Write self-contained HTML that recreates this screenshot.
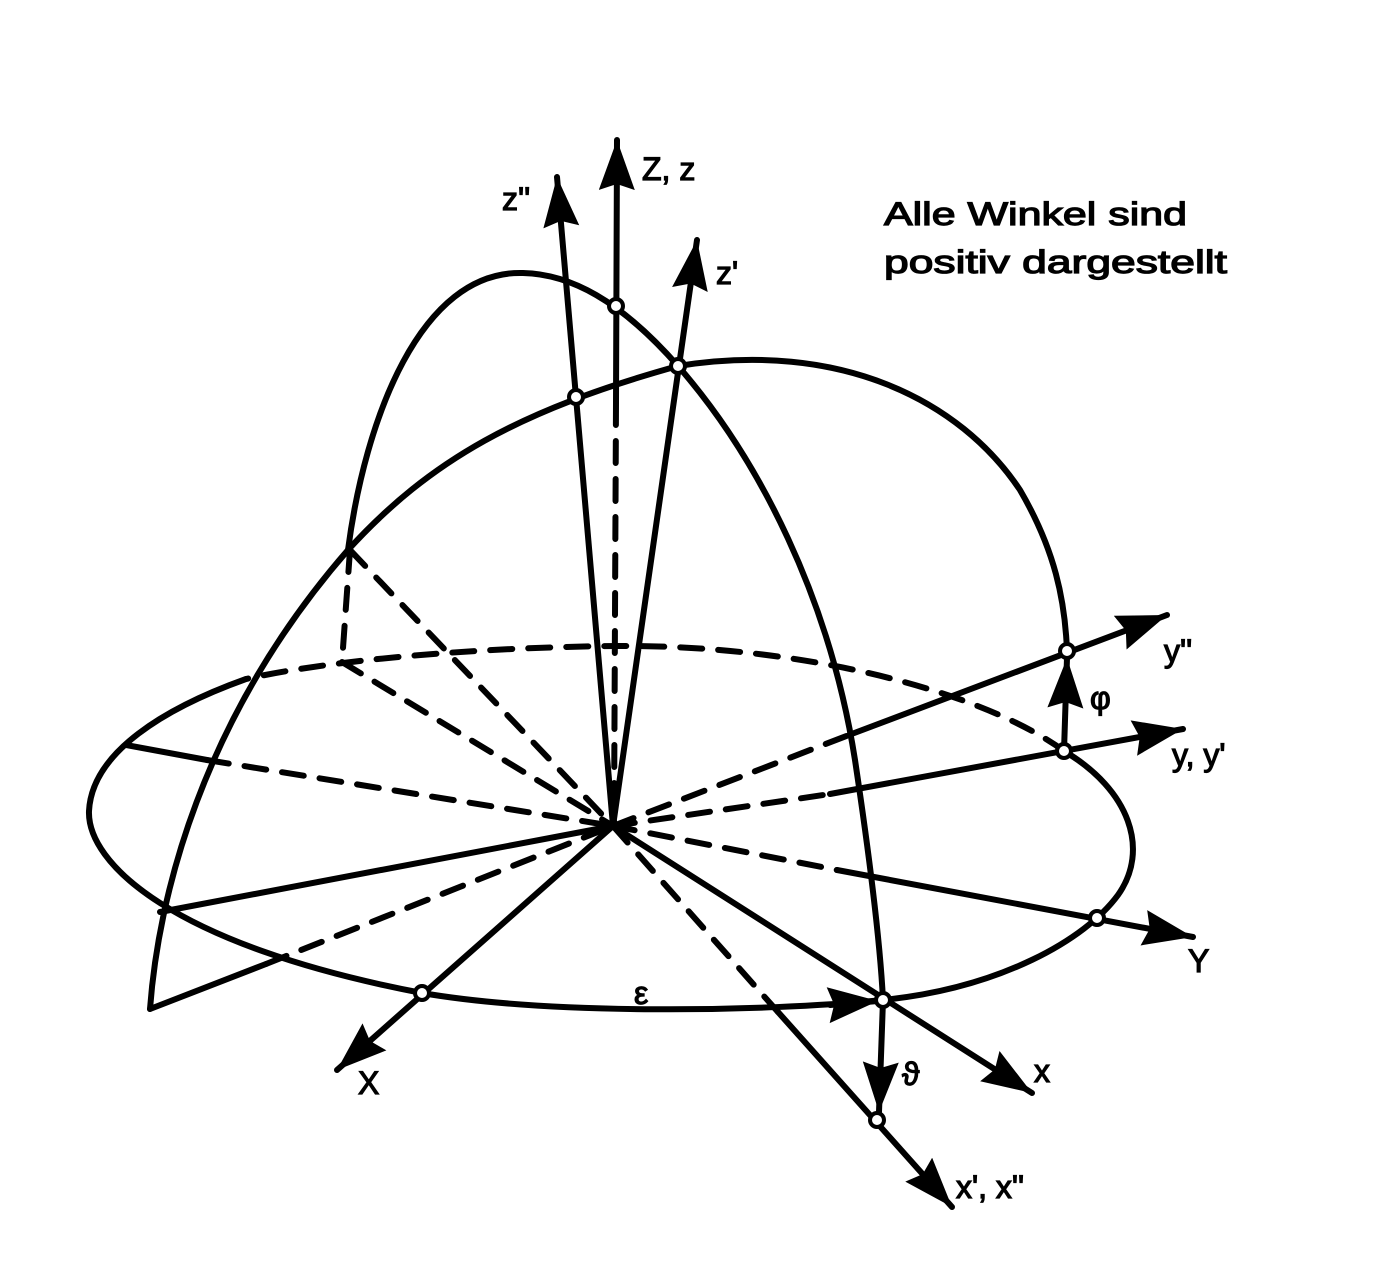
<!DOCTYPE html>
<html><head><meta charset="utf-8"><style>
html,body{margin:0;padding:0;background:#fff;}
svg{display:block;}
text{font-family:"Liberation Sans",sans-serif;fill:#000;stroke:#000;stroke-width:1.2;}
</style></head><body>
<svg width="1374" height="1278" viewBox="0 0 1374 1278" xmlns="http://www.w3.org/2000/svg">
<defs>
<marker id="ah" markerUnits="userSpaceOnUse" markerWidth="60" markerHeight="40" refX="50" refY="18" orient="auto" viewBox="0 0 60 40">
<path d="M0,0 L50,18 L0,36 L6,18 Z" fill="#000"/>
</marker>
</defs>
<g fill="none" stroke="#000" stroke-width="6" stroke-linecap="round" stroke-linejoin="round">
<path d="M246,679 C165,708 92,752 89,811 C87,862 170,945 422,993 C550,1015 760,1012 883,1000 C1000,988 1085,940 1118,895 C1150,850 1130,790 1064,751"/>
<path d="M1064,751 C980,690 800,645 620,646 C480,647 330,660 246,679" stroke-dasharray="22 16"/>

<path d="M150,1009 C158,900 200,720 348,550 C430,460 520,410 678,366 C840,340 960,400 1020,490 C1055,550 1065,600 1067,651"/>
<path d="M348,550 C365,420 420,270 523,273 C570,274 620,300 678,366 C760,460 830,600 855,760 C870,860 880,940 883,1000"/>

<g stroke-dasharray="22 16">
<line x1="350" y1="550" x2="342" y2="662"/>
<line x1="342" y1="662" x2="613" y2="826"/>
<line x1="350" y1="550" x2="613" y2="826"/>
<line x1="207" y1="760" x2="613" y2="826"/>
<line x1="266" y1="964" x2="613" y2="826"/>
<line x1="616" y1="403" x2="614" y2="826"/>
<line x1="613" y1="826" x2="849" y2="735"/>
<line x1="613" y1="826" x2="830" y2="794"/>
<line x1="613" y1="826" x2="837" y2="870"/>
<line x1="613" y1="826" x2="778" y2="1012"/>
</g>
<line x1="126" y1="745" x2="207" y2="760"/>
<line x1="160" y1="912" x2="613" y2="826"/>
<line x1="150" y1="1009" x2="266" y2="964"/>

<line x1="616" y1="403" x2="617" y2="140" marker-end="url(#ah)"/>
<line x1="613" y1="826" x2="557" y2="177" marker-end="url(#ah)"/>
<line x1="613" y1="826" x2="697" y2="240" marker-end="url(#ah)"/>
<line x1="613" y1="826" x2="337" y2="1070" marker-end="url(#ah)"/>
<line x1="613" y1="826" x2="1032" y2="1093" marker-end="url(#ah)"/>
<line x1="778" y1="1012" x2="952" y2="1207" marker-end="url(#ah)"/>
<line x1="837" y1="870" x2="1193" y2="937" marker-end="url(#ah)"/>
<line x1="830" y1="794" x2="1183" y2="729" marker-end="url(#ah)"/>
<line x1="849" y1="735" x2="1167" y2="615" marker-end="url(#ah)"/>
<line x1="830" y1="1005" x2="878" y2="1001" marker-end="url(#ah)"/>
<line x1="883" y1="1000" x2="879" y2="1112" marker-end="url(#ah)"/>
<line x1="1064" y1="751" x2="1067" y2="658" marker-end="url(#ah)"/>
</g>

<g fill="#fff" stroke="#000" stroke-width="4">
<circle cx="616" cy="306" r="7"/>
<circle cx="576" cy="397" r="7"/>
<circle cx="678" cy="366" r="7"/>
<circle cx="1067" cy="651" r="7"/>
<circle cx="1064" cy="751" r="7"/>
<circle cx="1097" cy="918" r="7"/>
<circle cx="883" cy="1000" r="7"/>
<circle cx="877" cy="1120" r="7"/>
<circle cx="422" cy="993" r="7"/>
</g>

<g font-size="32">
<text x="502" y="210">z''</text>
<text x="642" y="180">Z, z</text>
<text x="716" y="284">z'</text>
<text x="884" y="225" textLength="303" lengthAdjust="spacingAndGlyphs">Alle Winkel sind</text>
<text x="884" y="273" textLength="343" lengthAdjust="spacingAndGlyphs">positiv dargestellt</text>
<text x="1164" y="662">y''</text>
<text x="1172" y="766">y, y'</text>
<text x="1090" y="709">φ</text>
<text x="1188" y="972">Y</text>
<text x="1034" y="1082">x</text>
<text x="902" y="1085">ϑ</text>
<text x="956" y="1198">x', x''</text>
<text x="358" y="1094">X</text>
<text x="634" y="1004">ε</text>
</g>
</svg>
</body></html>
